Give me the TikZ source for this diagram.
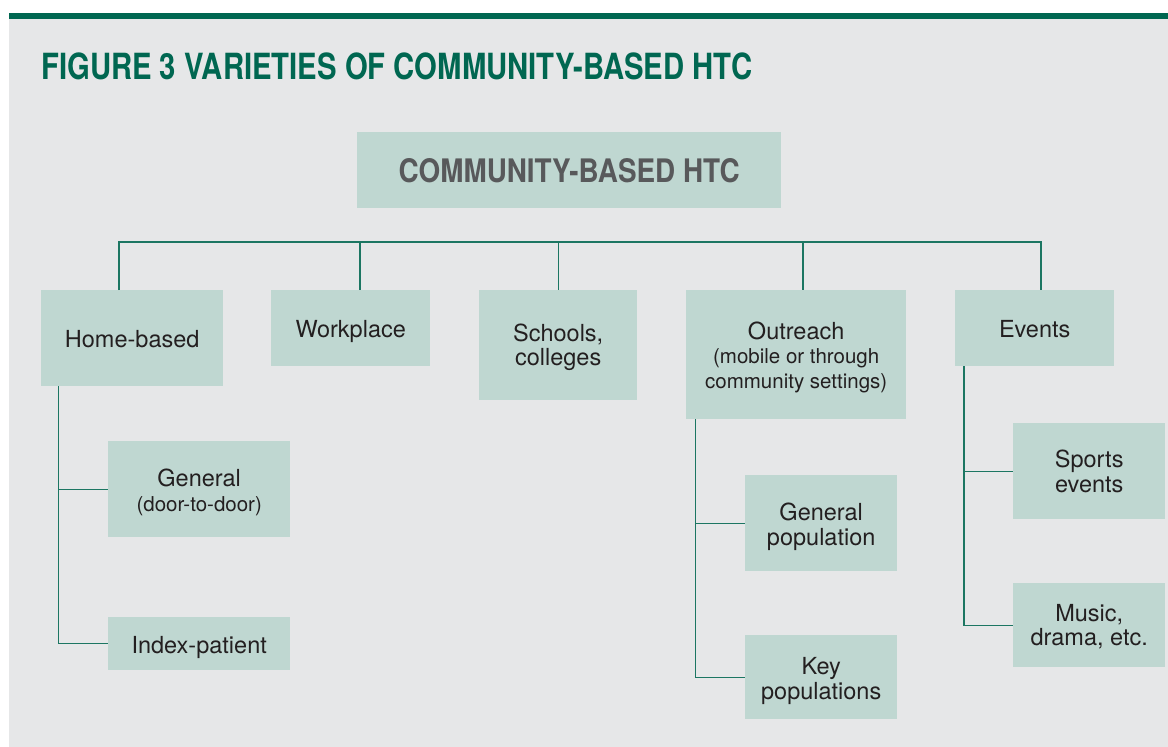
\documentclass[tikz,border=0pt]{standalone}
\usepackage{fontspec}
\setmainfont{TeX Gyre Heros}
\usepackage{graphicx}
\definecolor{bggray}{RGB}{230,231,232}
\definecolor{bargreen}{RGB}{0,103,81}
\definecolor{boxfill}{RGB}{191,215,209}
\definecolor{linegreen}{RGB}{28,118,98}
\definecolor{txtdark}{RGB}{35,31,32}
\definecolor{txtgray}{RGB}{88,89,91}
\newcommand{\subtxt}[1]{{\fontsize{20.5}{24.5}\selectfont #1}}
\newcommand{\lift}[1]{\rule{0pt}{#1pt}}
\begin{document}
\begin{tikzpicture}[x=1pt,y=-1pt,
  box/.style n args={2}{fill=boxfill, inner sep=0pt, anchor=north west, align=center,
     text=txtdark, font=\fontsize{23.5}{24.5}\selectfont,
     minimum width=#1, minimum height=#2},
  conn/.style={draw=linegreen, line width=1.4pt}]
\useasboundingbox (0,0) rectangle (1168,747);
\fill[white] (0,0) rectangle (1168,747);
\fill[bggray] (9,18) rectangle (1168,747);
\fill[bargreen] (9,13) rectangle (1168,18.5);
\node[anchor=south west, inner sep=0pt, text=bargreen] (title) at (41,80)
  {\resizebox{711pt}{26.7pt}{\bfseries FIGURE 3 VARIETIES OF COMMUNITY-BASED HTC}};
\node[box={424pt}{76pt}, text=txtgray] (main) at (357,132)
  {\resizebox{341pt}{24pt}{\bfseries COMMUNITY-BASED HTC}};
% level 1
\node[box={182pt}{96pt}] (home) at (41,290) {\lift{19.2}Home-based};
\node[box={159pt}{76pt}] (work) at (271,290) {\lift{23.2}Workplace};
\node[box={158pt}{110pt}] (school) at (479,290) {\lift{22.2}Schools,\\colleges};
\node[box={220pt}{129pt}] (outreach) at (686,290) {\lift{22.2}Outreach\\\subtxt{(mobile or through}\\\subtxt{community settings)}};
\node[box={159pt}{76pt}] (events) at (955,290) {\lift{19.2}Events};
% level 2
\node[box={182pt}{96pt}] (gen) at (108,441) {\lift{24.2}General\\\subtxt{(door-to-door)}};
\node[box={182pt}{53pt}] (idx) at (108,617) {\lift{25.2}Index-patient};
\node[box={152pt}{96pt}] (gp) at (745,475) {\lift{25.2}General\\population};
\node[box={152pt}{84pt}] (kp) at (745,635) {\lift{25.2}Key\\populations};
\node[box={152pt}{96pt}] (sports) at (1013,423) {\lift{18.2}Sports\\events};
\node[box={152pt}{84pt}] (music) at (1013,583) {\lift{20.2}Music,\\drama, etc.};
% connectors
\coordinate (t1) at (119,242);
\coordinate (t2) at (360,242);
\coordinate (t3) at (558.5,242);
\coordinate (t4) at (803,242);
\coordinate (t5) at (1041,242);
\draw[conn] (t1 |- home.north) -- (t1) -- (t5) -- (t5 |- events.north);
\draw[conn] (t2) -- (t2 |- work.north);
\draw[conn] (t3) -- (t3 |- school.north);
\draw[conn] (t4) -- (t4 |- outreach.north);
\coordinate (s1) at (58.5,0);
\coordinate (s2) at (695.5,0);
\coordinate (s3) at (964,0);
\draw[conn] (home.south -| s1) |- (idx.west);
\draw[conn] (gen.west -| s1) -- (gen.west);
\draw[conn] (outreach.south -| s2) |- (kp.west);
\draw[conn] (gp.west -| s2) -- (gp.west);
\draw[conn] (events.south -| s3) |- (music.west);
\draw[conn] (sports.west -| s3) -- (sports.west);
\end{tikzpicture}
\end{document}
